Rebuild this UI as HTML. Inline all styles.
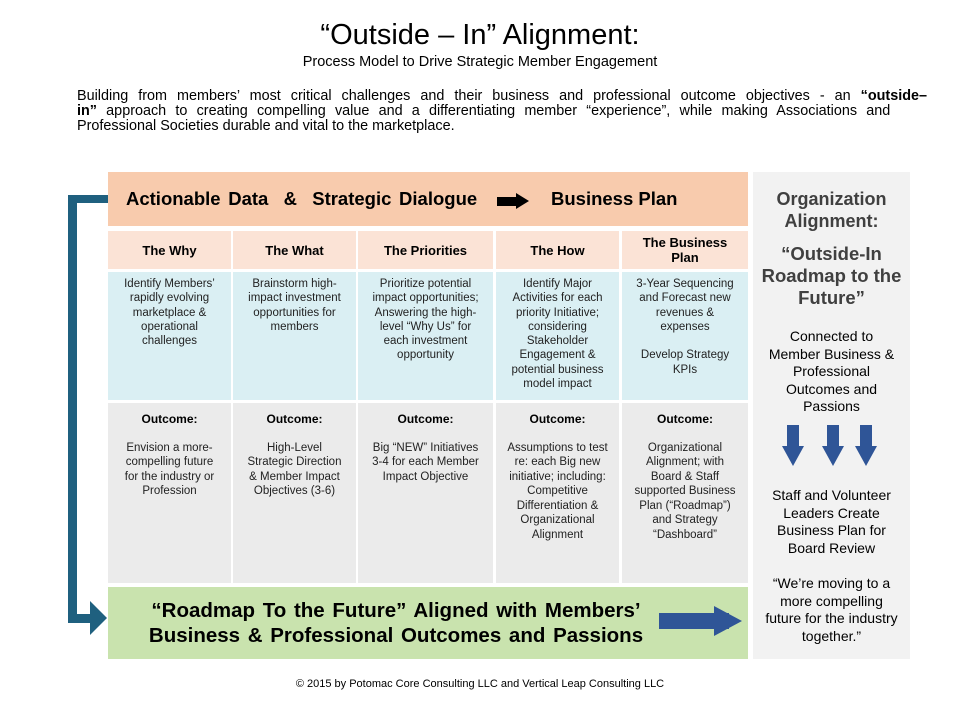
<!DOCTYPE html>
<html><head><meta charset="utf-8"><style>
body{margin:0;width:960px;height:720px;background:#fff;position:relative;font-family:"Liberation Sans",Arial,sans-serif;color:#000;overflow:hidden}
.a{position:absolute;box-sizing:border-box}
.c{display:flex;align-items:center;justify-content:center;text-align:center}
.h{background:#fbe3d6;font-weight:bold;font-size:13px;line-height:15px}
.b{background:#daeff3;font-size:11.5px;line-height:14.3px;text-align:center;padding:5px 10px 0;color:#222}
.o{background:#ebebeb;font-size:11.5px;line-height:14.5px;text-align:center;padding:9px 10px 0;color:#222}
.o b{display:block;font-size:12px;margin-bottom:14px;color:#000}
.j{display:block;text-align:justify;text-align-last:justify;white-space:nowrap}
</style></head><body>
<div class="a" style="left:0;top:18px;width:960px;text-align:center;font-size:29px;line-height:34px">“Outside – In” Alignment:</div>
<div class="a" style="left:0;top:54px;width:960px;text-align:center;font-size:14.5px">Process Model to Drive Strategic Member Engagement</div>
<div class="a" style="left:77px;top:89px;width:850px;font-size:14.4px;line-height:15px">
<span class="j">Building from members’ most critical challenges and their business and professional outcome objectives - an <b>“outside–</b></span>
<span style="display:block;white-space:nowrap;word-spacing:5.2px"><b>in”</b> approach to creating compelling value and a differentiating member “experience”, while making Associations and</span>
<span style="display:block">Professional Societies durable and vital to the marketplace.</span></div>

<div class="a" style="left:108px;top:172px;width:640px;height:54px;background:#f8cbad"></div>
<div class="a" style="left:126px;top:188px;font-size:18.5px;font-weight:bold;white-space:pre;word-spacing:2.5px">Actionable Data  &amp;  Strategic Dialogue</div>
<div class="a" style="left:497px;top:197px;width:20px;height:9px;background:#000"></div>
<div class="a" style="left:516px;top:193px;width:0;height:0;border-top:8px solid transparent;border-bottom:8px solid transparent;border-left:13px solid #000"></div>
<div class="a" style="left:551px;top:188px;font-size:18.5px;font-weight:bold">Business Plan</div>

<div class="a h c" style="left:108px;top:231px;width:123px;height:38px">The Why</div>
<div class="a h c" style="left:233px;top:231px;width:123px;height:38px">The What</div>
<div class="a h c" style="left:358px;top:231px;width:135px;height:38px">The Priorities</div>
<div class="a h c" style="left:496px;top:231px;width:123px;height:38px">The How</div>
<div class="a h c" style="left:622px;top:231px;width:126px;height:38px">The Business<br>Plan</div>

<div class="a b" style="left:108px;top:272px;width:123px;height:128px">Identify Members’ rapidly evolving marketplace &amp; operational challenges</div>
<div class="a b" style="left:233px;top:272px;width:123px;height:128px">Brainstorm high-impact investment opportunities for members</div>
<div class="a b" style="left:358px;top:272px;width:135px;height:128px">Prioritize potential impact opportunities; Answering the high-level “Why Us” for each investment opportunity</div>
<div class="a b" style="left:496px;top:272px;width:123px;height:128px">Identify Major Activities for each priority Initiative; considering Stakeholder Engagement &amp; potential business model impact</div>
<div class="a b" style="left:622px;top:272px;width:126px;height:128px">3-Year Sequencing and Forecast new revenues &amp; expenses<br><br>Develop Strategy KPIs</div>

<div class="a o" style="left:108px;top:403px;width:123px;height:180px"><b>Outcome:</b>Envision a more-compelling future for the industry or Profession</div>
<div class="a o" style="left:233px;top:403px;width:123px;height:180px"><b>Outcome:</b>High-Level Strategic Direction &amp; Member Impact Objectives (3-6)</div>
<div class="a o" style="left:358px;top:403px;width:135px;height:180px"><b>Outcome:</b>Big “NEW” Initiatives 3-4 for each Member Impact Objective</div>
<div class="a o" style="left:496px;top:403px;width:123px;height:180px"><b>Outcome:</b>Assumptions to test re: each Big new initiative; including: Competitive Differentiation &amp; Organizational Alignment</div>
<div class="a o" style="left:622px;top:403px;width:126px;height:180px"><b>Outcome:</b>Organizational Alignment; with Board &amp; Staff supported Business Plan (“Roadmap”) and Strategy “Dashboard”</div>

<div class="a" style="left:108px;top:587px;width:640px;height:72px;background:#c9e3ae"></div>
<div class="a" style="left:108px;top:598px;width:576px;text-align:center;font-size:20.5px;font-weight:bold;line-height:25px;word-spacing:2px">“Roadmap To the Future” Aligned with Members’<br>Business &amp; Professional Outcomes and Passions</div>
<div class="a" style="left:659px;top:613px;width:70px;height:16px;background:#2f5597"></div>
<div class="a" style="left:714px;top:606px;width:0;height:0;border-top:15px solid transparent;border-bottom:15px solid transparent;border-left:28px solid #2f5597"></div>

<div class="a" style="left:68px;top:195px;width:9px;height:428px;background:#1f607f"></div>
<div class="a" style="left:68px;top:195px;width:40px;height:8px;background:#1f607f"></div>
<div class="a" style="left:68px;top:614px;width:24px;height:9px;background:#1f607f"></div>
<div class="a" style="left:90px;top:601px;width:0;height:0;border-top:17px solid transparent;border-bottom:17px solid transparent;border-left:17px solid #1f607f"></div>

<div class="a" style="left:753px;top:172px;width:157px;height:487px;background:#f2f2f2"></div>
<div class="a" style="left:753px;top:188px;width:157px;text-align:center;font-size:18px;font-weight:bold;line-height:22px;color:#404040">Organization<br>Alignment:</div>
<div class="a" style="left:753px;top:243px;width:157px;text-align:center;font-size:18.5px;font-weight:bold;line-height:22px;color:#404040">“Outside-In<br>Roadmap to the<br>Future”</div>
<div class="a" style="left:753px;top:328px;width:157px;text-align:center;font-size:14px;line-height:17.5px">Connected to<br>Member Business &amp;<br>Professional<br>Outcomes and<br>Passions</div>
<div class="a" style="left:787px;top:425px;width:12px;height:22px;background:#2f5597"></div>
<div class="a" style="left:782px;top:446px;border-left:11px solid transparent;border-right:11px solid transparent;border-top:20px solid #2f5597;width:0;height:0"></div>
<div class="a" style="left:827px;top:425px;width:12px;height:22px;background:#2f5597"></div>
<div class="a" style="left:822px;top:446px;border-left:11px solid transparent;border-right:11px solid transparent;border-top:20px solid #2f5597;width:0;height:0"></div>
<div class="a" style="left:860px;top:425px;width:12px;height:22px;background:#2f5597"></div>
<div class="a" style="left:855px;top:446px;border-left:11px solid transparent;border-right:11px solid transparent;border-top:20px solid #2f5597;width:0;height:0"></div>
<div class="a" style="left:753px;top:487px;width:157px;text-align:center;font-size:14px;line-height:17.5px">Staff and Volunteer<br>Leaders Create<br>Business Plan for<br>Board Review</div>
<div class="a" style="left:753px;top:575px;width:157px;text-align:center;font-size:14px;line-height:17.5px">“We’re moving to a<br>more compelling<br>future for the industry<br>together.”</div>

<div class="a" style="left:0;top:678px;width:960px;text-align:center;font-size:11px">© 2015 by Potomac Core Consulting LLC and Vertical Leap Consulting LLC</div>
</body></html>
